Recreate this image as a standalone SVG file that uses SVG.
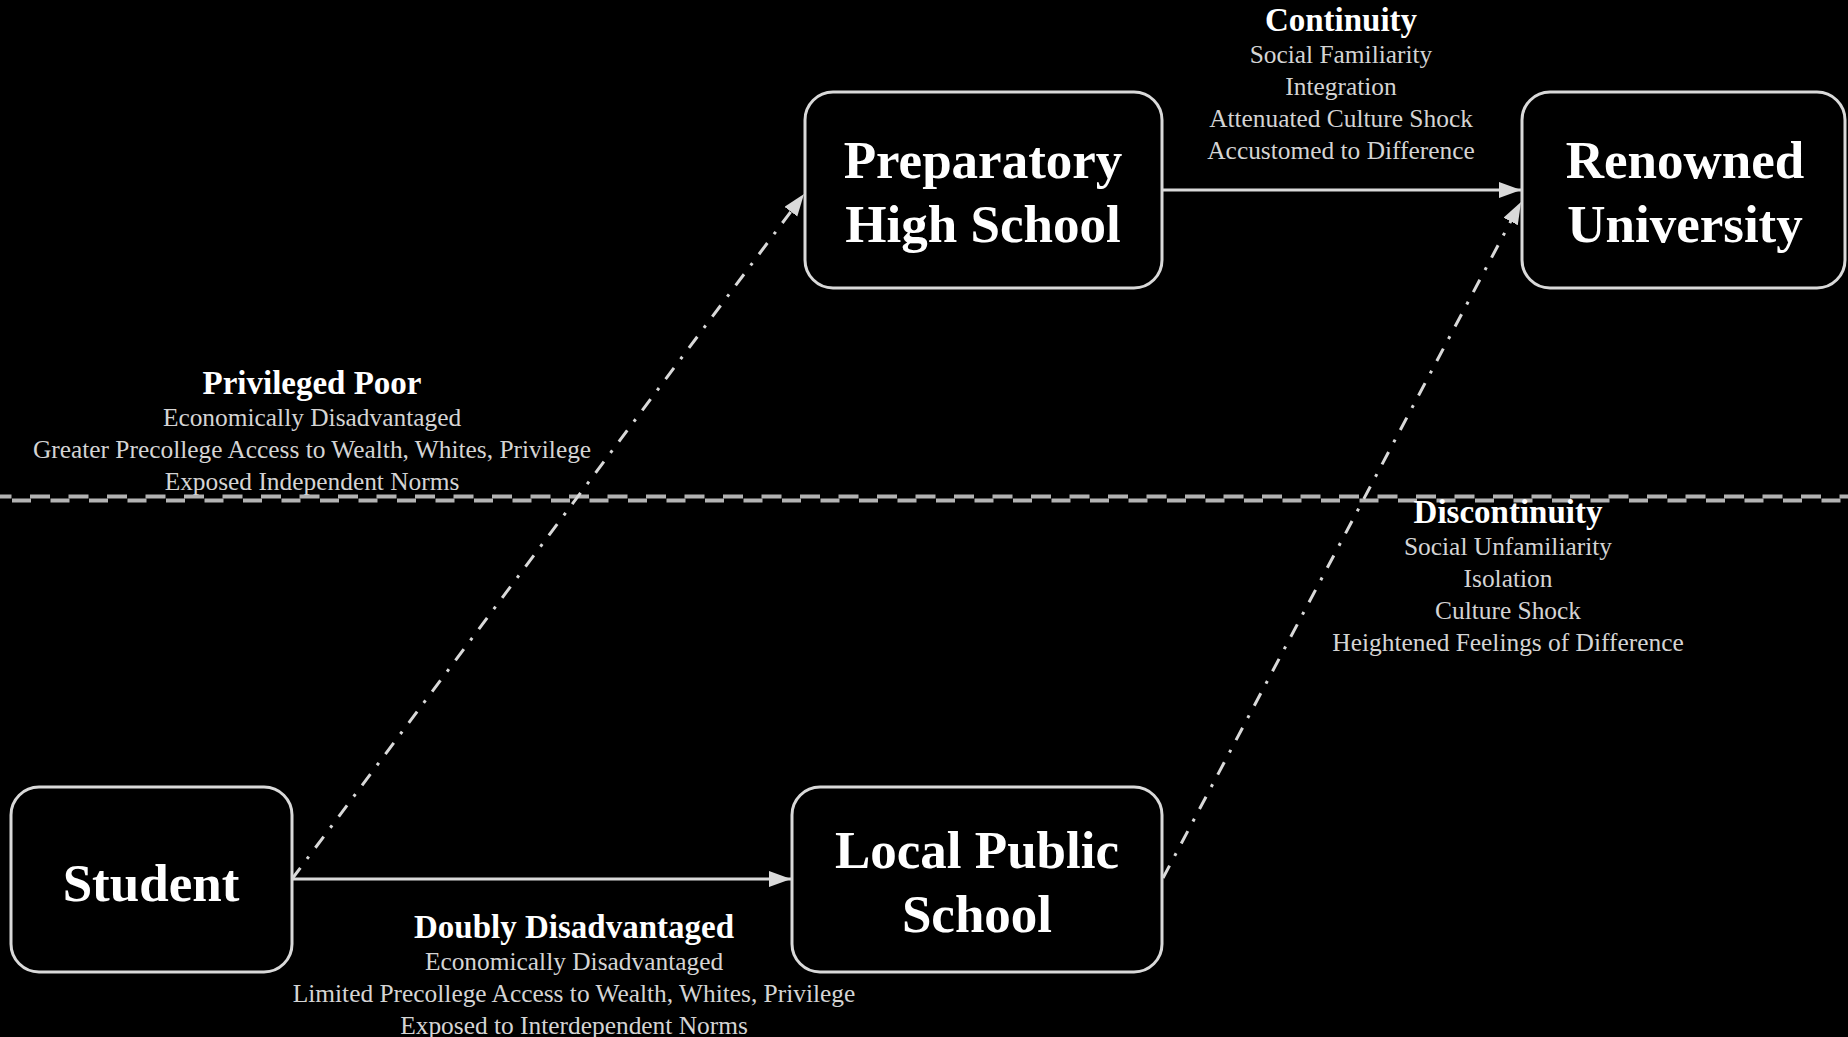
<svg xmlns="http://www.w3.org/2000/svg" width="1848" height="1037" viewBox="0 0 1848 1037">
<defs>
<style>
.node rect{fill:#000;stroke:#d9d9d9;stroke-width:3}
.nt{font-family:"Liberation Serif","Times New Roman",serif;font-weight:bold;font-size:53px;fill:#fff;text-anchor:middle}
.hd{font-family:"Liberation Serif","Times New Roman",serif;font-weight:bold;font-size:33px;fill:#fff;text-anchor:middle}
.bd{font-family:"Liberation Serif","Times New Roman",serif;font-size:25.4px;fill:#d4d4d4;text-anchor:middle}
.solid{stroke:#d9d9d9;stroke-width:3;fill:none}
.dd{stroke:#d9d9d9;stroke-width:3;fill:none;stroke-dasharray:14 11 3 11}
.sep{stroke:#b3b3b3;stroke-width:4;fill:none}
</style>
<marker id="arr" markerUnits="userSpaceOnUse" markerWidth="24" markerHeight="18" refX="22" refY="8" orient="auto">
<path d="M0,0 L22,8 L0,16 Z" fill="#d9d9d9"/>
</marker>
</defs>
<rect x="0" y="0" width="1848" height="1037" fill="#000"/>

<g id="separator">
<line class="sep" x1="0" y1="500.5" x2="1848" y2="500.5" stroke-dasharray="19 19.5" stroke-dashoffset="26.5"/>
<line class="sep" x1="0" y1="496.5" x2="1848" y2="496.5" stroke-dasharray="20 18.5" stroke-dashoffset="8.5"/>
</g>

<g id="connectors">
<line class="solid" x1="292" y1="879" x2="791" y2="879" marker-end="url(#arr)"/>
<line class="solid" x1="1162" y1="190" x2="1521" y2="190" marker-end="url(#arr)"/>
<line class="dd" x1="292" y1="879" x2="804" y2="194" marker-end="url(#arr)"/>
<line class="dd" x1="1163" y1="878" x2="1521" y2="202" marker-end="url(#arr)"/>
</g>

<g id="node-preparatory" class="node">
<rect x="805" y="92" width="357" height="196" rx="28"/>
<text class="nt" x="983" y="178">Preparatory</text>
<text class="nt" x="983" y="242">High School</text>
</g>

<g id="node-renowned" class="node">
<rect x="1522" y="92" width="323" height="196" rx="28"/>
<text class="nt" x="1685" y="178">Renowned</text>
<text class="nt" x="1685" y="242">University</text>
</g>

<g id="node-student" class="node">
<rect x="11" y="787" width="281" height="185" rx="28"/>
<text class="nt" x="151" y="901">Student</text>
</g>

<g id="node-local" class="node">
<rect x="792" y="787" width="370" height="185" rx="28"/>
<text class="nt" x="977" y="868">Local Public</text>
<text class="nt" x="977" y="932">School</text>
</g>

<g id="label-continuity">
<text class="hd" x="1341" y="31">Continuity</text>
<text class="bd" x="1341" y="63">Social Familiarity</text>
<text class="bd" x="1341" y="95">Integration</text>
<text class="bd" x="1341" y="127">Attenuated Culture Shock</text>
<text class="bd" x="1341" y="159">Accustomed to Difference</text>
</g>

<g id="label-privileged">
<text class="hd" x="312" y="394">Privileged Poor</text>
<text class="bd" x="312" y="426">Economically Disadvantaged</text>
<text class="bd" x="312" y="458">Greater Precollege Access to Wealth, Whites, Privilege</text>
<text class="bd" x="312" y="490">Exposed Independent Norms</text>
</g>

<g id="label-discontinuity">
<text class="hd" x="1508" y="523">Discontinuity</text>
<text class="bd" x="1508" y="555">Social Unfamiliarity</text>
<text class="bd" x="1508" y="587">Isolation</text>
<text class="bd" x="1508" y="619">Culture Shock</text>
<text class="bd" x="1508" y="651">Heightened Feelings of Difference</text>
</g>

<g id="label-doubly">
<text class="hd" x="574" y="938">Doubly Disadvantaged</text>
<text class="bd" x="574" y="970">Economically Disadvantaged</text>
<text class="bd" x="574" y="1002">Limited Precollege Access to Wealth, Whites, Privilege</text>
<text class="bd" x="574" y="1034">Exposed to Interdependent Norms</text>
</g>
</svg>
